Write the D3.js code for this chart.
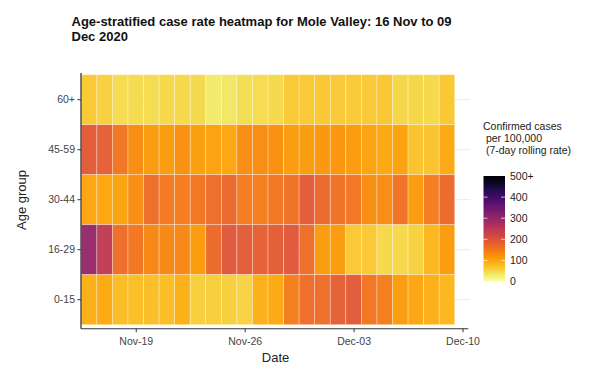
<!DOCTYPE html>
<html><head><meta charset="utf-8">
<script src="https://cdn.jsdelivr.net/npm/d3@7"></script>
<style>
html,body{margin:0;padding:0;background:#fff;}
svg{display:block;font-family:"Liberation Sans",Arial,sans-serif;}
</style></head>
<body><svg id="chart" width="589" height="372"></svg>
<script>
// ---- data ----
const ageGroups = ["60+", "45-59", "30-44", "16-29", "0-15"];
const startDate = "2020-11-16";
const nDays = 24;
const rate60 = [65,58,45,45,45,50,50,48,30,35,43,45,48,65,65,68,63,63,64,68,52,52,50,68];
const rate45 = [190,185,155,130,112,112,125,108,106,102,128,130,125,112,112,118,118,112,104,100,106,72,72,96];
const rate30 = [102,102,105,128,165,152,148,155,165,170,148,145,155,160,190,170,160,155,130,130,160,112,148,168];
const rate16 = [300,245,165,155,135,135,135,112,168,195,188,185,188,195,165,112,112,65,65,50,50,58,85,112];
const rate0 = [90,96,80,78,78,80,90,60,60,60,56,90,96,145,165,165,185,190,155,145,112,102,90,85];
const xTickLabels = ["Nov-19", "Nov-26", "Dec-03", "Dec-10"];
const legendTicks = [0, 100, 200, 300, 400, 500];
const legendLabels = ["0", "100", "200", "300", "400", "500+"];

const seriesByAge = {"60+": rate60, "45-59": rate45, "30-44": rate30, "16-29": rate16, "0-15": rate0};
const parse = d3.timeParse("%Y-%m-%d");
const day0 = parse(startDate);
const dates = d3.range(nDays).map(i => d3.timeDay.offset(day0, i));
const cells = [];
ageGroups.forEach(g => seriesByAge[g].forEach((v, i) => cells.push({age: g, date: dates[i], value: v})));

const svg = d3.select("#chart");
const font = "'Liberation Sans', Arial, sans-serif";

// scales
const half = d => d3.timeHour.offset(d, -12);
const x = d3.scaleTime()
  .domain([half(day0), d3.timeHour.offset(d3.timeDay.offset(day0, 25), -12)])
  .range([81.3, 470.3]);
const y = d3.scaleBand().domain(ageGroups).range([74.7, 324.7]).padding(0);
const color = d3.scaleSequential(t => d3.interpolateInferno(1 - t)).domain([0, 500]).clamp(true);

const panelLeft = 81, panelRight = 470.3, panelTop = 73, panelBottom = 328.7;

// grid lines
svg.append("g").selectAll("line").data(ageGroups).join("line")
  .attr("x1", panelLeft).attr("x2", panelRight)
  .attr("y1", d => y(d) + y.bandwidth() / 2).attr("y2", d => y(d) + y.bandwidth() / 2)
  .attr("stroke", "#ebebeb").attr("stroke-width", 1);

// tiles
svg.append("g").selectAll("rect").data(cells).join("rect")
  .attr("x", d => x(half(d.date)))
  .attr("width", d => x(half(d3.timeDay.offset(d.date, 1))) - x(half(d.date)))
  .attr("y", d => y(d.age))
  .attr("height", y.bandwidth())
  .attr("fill", d => color(d.value))
  .attr("fill-opacity", 0.96)
  .attr("stroke", "#ffffff").attr("stroke-opacity", 0.45).attr("stroke-width", 0.7);

// x axis
const xTickDates = xTickLabels.map(s => d3.timeParse("%b-%d-%Y")(s + "-2020"));
const xAxis = d3.axisBottom(x).tickValues(xTickDates).tickFormat(d3.timeFormat("%b-%d")).tickSize(3.5).tickSizeOuter(0);
const gx = svg.append("g").attr("transform", `translate(0,${panelBottom})`).call(xAxis);
gx.select(".domain").attr("d", `M${panelLeft},0H${panelRight - 2}`).attr("stroke", "#333").attr("stroke-width", 1.1);
gx.selectAll(".tick line").attr("stroke", "#333");
gx.selectAll(".tick text").attr("fill", "#444").attr("font-size", 10.5).attr("font-family", font).attr("dy", "0.95em");

// y axis
const yAxis = d3.axisLeft(y).tickSize(3.5).tickSizeOuter(0);
const gy = svg.append("g").attr("transform", `translate(${panelLeft},0)`).call(yAxis);
gy.select(".domain").attr("d", `M0,${panelTop}V${panelBottom}`).attr("stroke", "#111").attr("stroke-width", 1.1);
gy.selectAll(".tick line").attr("stroke", "#333");
gy.selectAll(".tick text").attr("fill", "#444").attr("font-size", 10.5).attr("font-family", font).attr("x", -6);

// axis titles
svg.append("text").attr("x", 275.5).attr("y", 362).attr("text-anchor", "middle")
  .attr("font-size", 13).attr("fill", "#222").attr("font-family", font).text("Date");
svg.append("text").attr("transform", "translate(26,200) rotate(-90)").attr("text-anchor", "middle")
  .attr("font-size", 13).attr("fill", "#222").attr("font-family", font).text("Age group");

// title
const title = svg.append("text").attr("font-size", 13).attr("font-weight", "bold").attr("fill", "#111").attr("font-family", font);
title.append("tspan").attr("x", 71.5).attr("y", 25.5).text("Age-stratified case rate heatmap for Mole Valley: 16 Nov to 09");
title.append("tspan").attr("x", 71.5).attr("y", 40.5).text("Dec 2020");

// legend
const lgX = 483.5, lgW = 21.5, lgTop = 176, lgBottom = 281.5;
const lgScale = d3.scaleLinear().domain([0, 500]).range([lgBottom, lgTop]);
const defs = svg.append("defs");
const grad = defs.append("linearGradient").attr("id", "lg").attr("x1", 0).attr("y1", 1).attr("x2", 0).attr("y2", 0);
d3.range(0, 1.0001, 0.05).forEach(t => grad.append("stop").attr("offset", t).attr("stop-color", color(t * 500)));
svg.append("rect").attr("x", lgX).attr("y", lgTop).attr("width", lgW).attr("height", lgBottom - lgTop).attr("fill", "url(#lg)");
const lgTickVals = legendTicks.slice(1, -1);
svg.append("g").selectAll("line.l").data(lgTickVals).join("line")
  .attr("x1", lgX).attr("x2", lgX + 4).attr("y1", d => lgScale(d)).attr("y2", d => lgScale(d))
  .attr("stroke", "#fff").attr("stroke-opacity", 0.7);
svg.append("g").selectAll("line.r").data(lgTickVals).join("line")
  .attr("x1", lgX + lgW - 4).attr("x2", lgX + lgW).attr("y1", d => lgScale(d)).attr("y2", d => lgScale(d))
  .attr("stroke", "#fff").attr("stroke-opacity", 0.7);
svg.append("g").selectAll("text").data(legendTicks).join("text")
  .attr("x", 510).attr("y", d => lgScale(d)).attr("dy", "0.35em")
  .attr("font-size", 10.5).attr("fill", "#222").attr("font-family", font)
  .text((d, i) => legendLabels[i]);
const lt = svg.append("text").attr("font-size", 10.5).attr("fill", "#222").attr("font-family", font);
["Confirmed cases", " per 100,000", " (7-day rolling rate)"].forEach((s, i) =>
  lt.append("tspan").attr("x", 483).attr("y", 130 + i * 11.8).attr("xml:space", "preserve").style("white-space", "pre").text(s));
</script></body></html>
